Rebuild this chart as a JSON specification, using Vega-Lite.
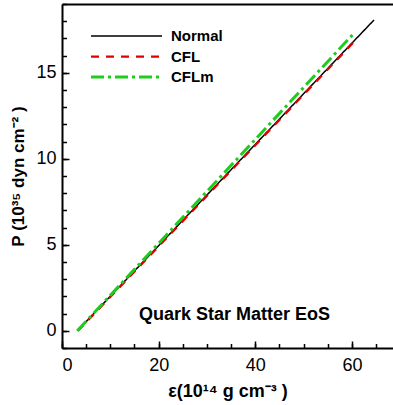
{
  "$schema": "https://vega.github.io/schema/vega-lite/v6.json",
  "width": 331,
  "height": 344,
  "autosize": "none",
  "padding": {"left": 62, "top": 4, "right": 0, "bottom": 57},
  "config": {
    "view": {"stroke": null, "fill": null},
    "font": "Liberation Sans",
    "axis": {
      "zindex": 1,
      "grid": false,
      "domainColor": "#000000",
      "domainWidth": 2,
      "tickColor": "#000000",
      "tickWidth": 1.5,
      "labelColor": "#000000",
      "labelFont": "Liberation Sans",
      "labelFontSize": 18,
      "titleColor": "#000000",
      "titleFont": "Liberation Sans",
      "titleFontWeight": "bold",
      "titleFontSize": 17
    },
    "legend": {
      "orient": "none",
      "legendX": 57,
      "legendY": 24.5,
      "padding": 0,
      "symbolType": "M-35.5,0H35.5",
      "symbolSize": 4,
      "labelOffset": 37,
      "labelFont": "Liberation Sans",
      "labelFontSize": 15,
      "labelFontWeight": "bold",
      "labelColor": "#000000",
      "rowPadding": 4.5
    }
  },
  "datasets": {
    "curves": [
      {"series": "Normal", "eps": 3.17, "P": 0},
      {"series": "Normal", "eps": 64.57, "P": 18.07},
      {"series": "CFL", "eps": 3.3, "P": 0},
      {"series": "CFL", "eps": 60.85, "P": 16.92},
      {"series": "CFLm", "eps": 3.17, "P": 0},
      {"series": "CFLm", "eps": 60.3, "P": 17.26}
    ],
    "note": [
      {"eps": 35.7, "P": 0.91, "label": "Quark Star Matter EoS"}
    ]
  },
  "encoding": {
    "color": {
      "field": "series", "type": "nominal", "title": null,
      "scale": {"domain": ["Normal", "CFL", "CFLm"], "range": ["#000000", "#e00000", "#1ecc1e"]}
    },
    "strokeDash": {
      "field": "series", "type": "nominal", "title": null,
      "scale": {"domain": ["Normal", "CFL", "CFLm"], "range": [[1, 0], [8, 7], [13, 4, 3, 4]]}
    },
    "strokeWidth": {
      "field": "series", "type": "nominal", "title": null,
      "scale": {"domain": ["Normal", "CFL", "CFLm"], "range": [1.5, 3, 3]}
    }
  },
  "layer": [
    {
      "data": {"name": "curves"},
      "transform": [{"filter": "datum.series === 'Normal'"}],
      "mark": {"type": "line"},
      "encoding": {
        "x": {
          "field": "eps", "type": "quantitative",
          "scale": {"domain": [0, 68.5], "nice": false, "zero": false},
          "axis": {
            "orient": "bottom", "ticks": false,
            "values": [0, 20, 40, 60],
            "labelPadding": 8,
            "title": "ε(10¹⁴ g cm⁻³ )",
            "titleFontSize": 18,
            "titlePadding": 8
          }
        },
        "y": {
          "field": "P", "type": "quantitative",
          "scale": {"domain": [-1, 19], "nice": false, "zero": false},
          "axis": {
            "orient": "left", "ticks": false,
            "values": [0, 5, 10, 15],
            "labelPadding": 6,
            "title": "P (10³⁵ dyn cm⁻² )",
            "titlePadding": 8
          }
        }
      }
    },
    {
      "data": {"name": "curves"},
      "transform": [{"filter": "datum.series === 'CFL'"}],
      "mark": {"type": "line"},
      "encoding": {
        "x": {
          "field": "eps", "type": "quantitative",
          "axis": {
            "orient": "bottom", "offset": -7, "tickSize": 7,
            "values": [0, 20, 40, 60],
            "labels": false, "domain": false, "title": null
          }
        },
        "y": {
          "field": "P", "type": "quantitative",
          "axis": {
            "orient": "left", "offset": -4.5, "tickSize": 4.5,
            "values": [-1, 0, 1, 2, 3, 4, 5, 6, 7, 8, 9, 10, 11, 12, 13, 14, 15, 16, 17, 18, 19],
            "labels": false, "domain": false, "title": null
          }
        }
      }
    },
    {
      "data": {"name": "curves"},
      "transform": [{"filter": "datum.series === 'CFLm'"}],
      "mark": {"type": "line"},
      "encoding": {
        "x": {
          "field": "eps", "type": "quantitative",
          "axis": {
            "orient": "bottom", "offset": -4.5, "tickSize": 4.5,
            "values": [0, 5, 10, 15, 20, 25, 30, 35, 40, 45, 50, 55, 60, 65],
            "labels": false, "domain": false, "title": null
          }
        },
        "y": {
          "field": "P", "type": "quantitative",
          "axis": null
        }
      }
    },
    {
      "data": {"name": "note"},
      "mark": {"type": "text", "font": "Liberation Sans", "fontSize": 18, "fontWeight": "bold", "baseline": "middle", "align": "center", "color": "#000000"},
      "encoding": {
        "x": {
          "field": "eps", "type": "quantitative",
          "axis": {"orient": "top", "labels": false, "ticks": false, "title": null, "domain": true}
        },
        "y": {
          "field": "P", "type": "quantitative",
          "axis": {
            "orient": "left", "offset": -7, "tickSize": 7,
            "values": [0, 5, 10, 15],
            "labels": false, "domain": false, "title": null
          }
        },
        "text": {"field": "label"},
        "color": {"value": "#000000"},
        "strokeDash": null,
        "strokeWidth": null
      }
    }
  ],
  "resolve": {"axis": {"x": "independent", "y": "independent"}}
}
